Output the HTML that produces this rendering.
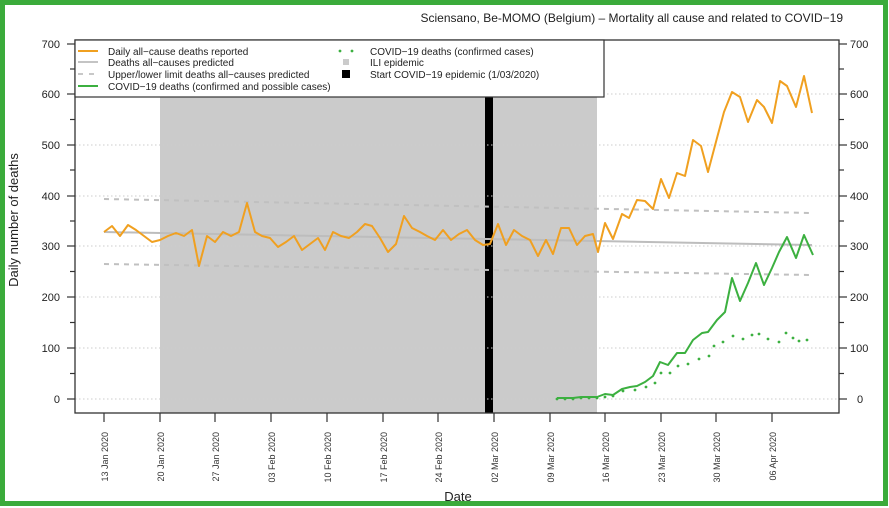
<!DOCTYPE html>
<html><head><meta charset="utf-8"><style>
body{margin:0;background:#fff;}
svg{display:block;font-family:"Liberation Sans",sans-serif;}
</style></head><body>
<svg width="889" height="508" viewBox="0 0 889 508" xmlns="http://www.w3.org/2000/svg">
<rect x="0" y="0" width="889" height="508" fill="#fff"/>
<rect x="2.5" y="2.5" width="883" height="501" fill="none" stroke="#3bab3b" stroke-width="5"/>
<text x="843" y="22" font-size="12" text-anchor="end" fill="#222">Sciensano, Be-MOMO (Belgium) – Mortality all cause and related to COVID−19</text>
<rect x="160" y="40" width="437" height="373" fill="#cbcbcb"/>
<rect x="485" y="40" width="8" height="373" fill="#000"/>
<g stroke="#ccc" stroke-dasharray="1.5,2.5" stroke-width="1">
<line x1="75" x2="839" y1="399" y2="399"/><line x1="75" x2="839" y1="348" y2="348"/>
<line x1="75" x2="839" y1="297" y2="297"/><line x1="75" x2="839" y1="246" y2="246"/>
<line x1="75" x2="839" y1="196" y2="196"/><line x1="75" x2="839" y1="145" y2="145"/>
<line x1="75" x2="839" y1="94" y2="94"/>
</g>
<line x1="104" y1="232" x2="812" y2="245" stroke="#bdbdbd" stroke-width="2"/>
<line x1="104" y1="199" x2="812" y2="213" stroke="#c0c0c0" stroke-width="2" stroke-dasharray="5,5"/>
<line x1="104" y1="264" x2="812" y2="275" stroke="#c0c0c0" stroke-width="2" stroke-dasharray="5,5"/>
<polyline fill="none" stroke="#f0a020" stroke-width="2" stroke-linejoin="round" points="104,232 112,226 120,236 128,225 136,230 144,236 152,242 160,240 168,236 176,233 184,236 192,230 199,266 207,236 215,242 223,232 231,236 239,232 247,203 255,232 262,236 270,238 278,247 286,242 294,236 302,250 310,244 318,238 325,250 333,232 341,236 349,238 357,232 365,224 372,226 380,238 388,252 396,244 404,216 412,228 420,232 427,236 435,240 443,230 451,240 459,234 467,230 475,240 483,245 490,244 498,224 506,245 514,230 522,236 530,240 538,256 546,240 553,254 561,228 569,228 577,245 585,236 593,234 598,252 605,223 613,239 622,214 629,218 637,200 645,201 653,209 661,179 669,198 677,173 685,176 693,140 701,146 708,172 717,138 724,112 732,92 740,97 748,122 757,100 764,107 772,123 780,81 787,86 796,107 804,76 812,113"/>
<polyline fill="none" stroke="#3cb040" stroke-width="2" stroke-linejoin="round" points="557,398 565,398 573,398 581,397 589,397 597,397 605,394 613,395 622,389 630,387 637,386 645,382 653,376 660,362 668,365 677,353 685,353 693,340 702,333 708,332 717,320 725,312 732,278 740,301 748,283 756,263 764,285 772,268 779,252 787,237 796,258 804,235 813,255"/>
<g fill="#3cb040">
<circle cx="557" cy="399" r="1.4"/><circle cx="565" cy="399" r="1.4"/><circle cx="573" cy="399" r="1.4"/><circle cx="581" cy="398" r="1.4"/><circle cx="589" cy="398" r="1.4"/><circle cx="597" cy="398" r="1.4"/><circle cx="605" cy="397" r="1.4"/><circle cx="613" cy="396" r="1.4"/>
<circle cx="623" cy="391" r="1.4"/><circle cx="635" cy="390" r="1.4"/><circle cx="646" cy="387" r="1.4"/><circle cx="655" cy="383" r="1.4"/><circle cx="661" cy="373" r="1.4"/><circle cx="670" cy="373" r="1.4"/><circle cx="678" cy="366" r="1.4"/><circle cx="688" cy="364" r="1.4"/><circle cx="699" cy="359" r="1.4"/><circle cx="709" cy="356" r="1.4"/><circle cx="714" cy="346" r="1.4"/><circle cx="723" cy="342" r="1.4"/><circle cx="733" cy="336" r="1.4"/><circle cx="743" cy="339" r="1.4"/><circle cx="752" cy="335" r="1.4"/><circle cx="759" cy="334" r="1.4"/><circle cx="768" cy="339" r="1.4"/><circle cx="779" cy="342" r="1.4"/><circle cx="786" cy="333" r="1.4"/><circle cx="793" cy="338" r="1.4"/><circle cx="799" cy="341" r="1.4"/><circle cx="807" cy="340" r="1.4"/>
</g>
<rect x="75" y="40" width="764" height="373" fill="none" stroke="#333" stroke-width="1.3"/>
<g stroke="#333" stroke-width="1.2">
<line x1="67" x2="75" y1="399" y2="399"/><line x1="70" x2="75" y1="373.5" y2="373.5"/>
<line x1="67" x2="75" y1="348" y2="348"/><line x1="70" x2="75" y1="322.5" y2="322.5"/>
<line x1="67" x2="75" y1="297" y2="297"/><line x1="70" x2="75" y1="271.5" y2="271.5"/>
<line x1="67" x2="75" y1="246" y2="246"/><line x1="70" x2="75" y1="221" y2="221"/>
<line x1="67" x2="75" y1="196" y2="196"/><line x1="70" x2="75" y1="170" y2="170"/>
<line x1="67" x2="75" y1="145" y2="145"/><line x1="70" x2="75" y1="119.5" y2="119.5"/>
<line x1="67" x2="75" y1="94" y2="94"/><line x1="70" x2="75" y1="69" y2="69"/>
<line x1="67" x2="75" y1="44" y2="44"/>
<line x1="839" x2="847" y1="399" y2="399"/><line x1="839" x2="844" y1="373.5" y2="373.5"/>
<line x1="839" x2="847" y1="348" y2="348"/><line x1="839" x2="844" y1="322.5" y2="322.5"/>
<line x1="839" x2="847" y1="297" y2="297"/><line x1="839" x2="844" y1="271.5" y2="271.5"/>
<line x1="839" x2="847" y1="246" y2="246"/><line x1="839" x2="844" y1="221" y2="221"/>
<line x1="839" x2="847" y1="196" y2="196"/><line x1="839" x2="844" y1="170" y2="170"/>
<line x1="839" x2="847" y1="145" y2="145"/><line x1="839" x2="844" y1="119.5" y2="119.5"/>
<line x1="839" x2="847" y1="94" y2="94"/><line x1="839" x2="844" y1="69" y2="69"/>
<line x1="839" x2="847" y1="44" y2="44"/>
</g>
<g font-size="11" fill="#222" text-anchor="end">
<text x="60" y="403">0</text><text x="60" y="352">100</text><text x="60" y="301">200</text><text x="60" y="250">300</text><text x="60" y="200">400</text><text x="60" y="149">500</text><text x="60" y="98">600</text><text x="60" y="48">700</text>
</g>
<g font-size="11" fill="#222">
<text x="857" y="403">0</text><text x="850" y="352">100</text><text x="850" y="301">200</text><text x="850" y="250">300</text><text x="850" y="200">400</text><text x="850" y="149">500</text><text x="850" y="98">600</text><text x="850" y="48">700</text>
</g>
<text transform="translate(18,220) rotate(-90)" font-size="13" text-anchor="middle" fill="#222">Daily number of deaths</text>
<g stroke="#333" stroke-width="1.2">
<line x1="104" x2="104" y1="413" y2="422"/><line x1="160" x2="160" y1="413" y2="422"/><line x1="215" x2="215" y1="413" y2="422"/><line x1="271" x2="271" y1="413" y2="422"/><line x1="327" x2="327" y1="413" y2="422"/><line x1="383" x2="383" y1="413" y2="422"/><line x1="438" x2="438" y1="413" y2="422"/><line x1="494" x2="494" y1="413" y2="422"/><line x1="550" x2="550" y1="413" y2="422"/><line x1="605" x2="605" y1="413" y2="422"/><line x1="661" x2="661" y1="413" y2="422"/><line x1="716" x2="716" y1="413" y2="422"/><line x1="772" x2="772" y1="413" y2="422"/>
</g>
<g font-size="9" fill="#333" text-anchor="end">
<text transform="translate(108,432) rotate(-90)">13 Jan 2020</text>
<text transform="translate(164,432) rotate(-90)">20 Jan 2020</text>
<text transform="translate(219,432) rotate(-90)">27 Jan 2020</text>
<text transform="translate(275,432) rotate(-90)">03 Feb 2020</text>
<text transform="translate(331,432) rotate(-90)">10 Feb 2020</text>
<text transform="translate(387,432) rotate(-90)">17 Feb 2020</text>
<text transform="translate(442,432) rotate(-90)">24 Feb 2020</text>
<text transform="translate(498,432) rotate(-90)">02 Mar 2020</text>
<text transform="translate(554,432) rotate(-90)">09 Mar 2020</text>
<text transform="translate(609,432) rotate(-90)">16 Mar 2020</text>
<text transform="translate(665,432) rotate(-90)">23 Mar 2020</text>
<text transform="translate(720,432) rotate(-90)">30 Mar 2020</text>
<text transform="translate(776,432) rotate(-90)">06 Apr 2020</text>
</g>
<text x="458" y="501" font-size="13" text-anchor="middle" fill="#222">Date</text>
<rect x="75" y="40" width="529" height="57" fill="#fff" stroke="#333" stroke-width="1.2"/>
<g stroke-width="2">
<line x1="78" x2="98" y1="51" y2="51" stroke="#f0a020"/>
<line x1="78" x2="98" y1="62" y2="62" stroke="#c4c4c4"/>
<line x1="78" x2="98" y1="74" y2="74" stroke="#c8c8c8" stroke-dasharray="5,6"/>
<line x1="78" x2="98" y1="86" y2="86" stroke="#3cb040"/>
</g>
<g font-size="10" fill="#222">
<text x="108" y="55">Daily all−cause deaths reported</text>
<text x="108" y="66">Deaths all−causes predicted</text>
<text x="108" y="78">Upper/lower limit deaths all−causes predicted</text>
<text x="108" y="90">COVID−19 deaths (confirmed and possible cases)</text>
<text x="370" y="55">COVID−19 deaths (confirmed cases)</text>
<text x="370" y="66">ILI epidemic</text>
<text x="370" y="78">Start COVID−19 epidemic (1/03/2020)</text>
</g>
<circle cx="340" cy="51" r="1.4" fill="#3cb040"/><circle cx="352" cy="51" r="1.4" fill="#3cb040"/>
<rect x="343" y="59" width="6" height="6" fill="#cbcbcb"/>
<rect x="342" y="70" width="8" height="8" fill="#000"/>
</svg>
</body></html>
